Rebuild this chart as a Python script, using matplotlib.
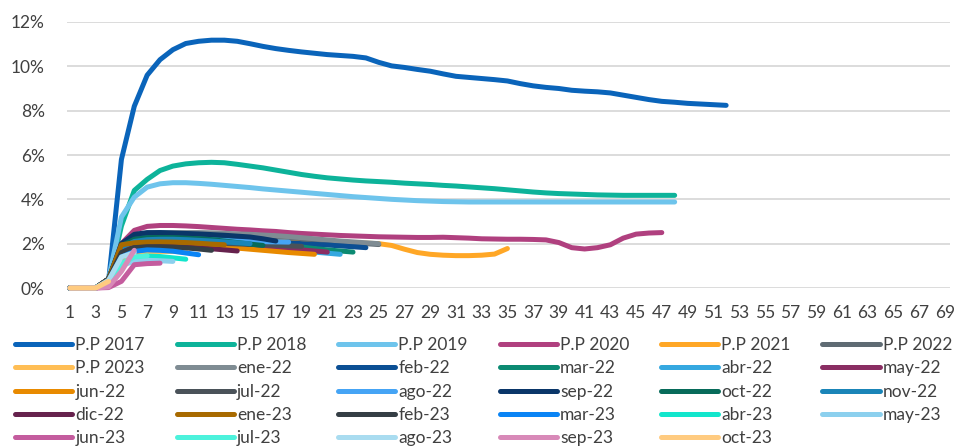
import matplotlib
matplotlib.use("Agg")
import matplotlib.pyplot as plt
from matplotlib.ticker import FuncFormatter

# ─────────────────────────────────────────────
# DATA  (% default rate by month since origination)
# ─────────────────────────────────────────────
pp_2017 = [0, 0, 0, 0.3, 5.8, 8.2, 9.6, 10.3, 10.75, 11.03, 11.13, 11.18, 11.18, 11.13,
           11.02, 10.9, 10.8, 10.72, 10.65, 10.59, 10.53, 10.49, 10.45, 10.38, 10.18,
           10.02, 9.95, 9.86, 9.78, 9.66, 9.55, 9.5, 9.45, 9.4, 9.34, 9.22, 9.12, 9.05,
           9.0, 8.92, 8.88, 8.85, 8.8, 8.7, 8.6, 8.5, 8.42, 8.38, 8.33, 8.3, 8.27, 8.24]
pp_2018 = [0, 0, 0, 0.2, 2.8, 4.4, 4.9, 5.3, 5.5, 5.6, 5.65, 5.67, 5.65, 5.58, 5.5,
           5.42, 5.32, 5.22, 5.12, 5.04, 4.97, 4.92, 4.87, 4.83, 4.8, 4.77, 4.73, 4.7,
           4.67, 4.63, 4.6, 4.56, 4.52, 4.48, 4.43, 4.38, 4.33, 4.29, 4.26, 4.24, 4.22,
           4.2, 4.19, 4.18, 4.18, 4.18, 4.18, 4.18]
pp_2019 = [0, 0, 0, 0.4, 3.2, 4.1, 4.55, 4.7, 4.75, 4.75, 4.72, 4.68, 4.63, 4.58, 4.53,
           4.47, 4.42, 4.37, 4.32, 4.27, 4.22, 4.17, 4.12, 4.08, 4.04, 4.0, 3.97, 3.94,
           3.92, 3.9, 3.89, 3.88, 3.88, 3.88, 3.88, 3.88, 3.88, 3.88, 3.88, 3.88, 3.88,
           3.88, 3.88, 3.88, 3.88, 3.88, 3.88, 3.88]
pp_2020 = [0, 0, 0, 0.3, 2.0, 2.6, 2.78, 2.82, 2.82, 2.8, 2.77, 2.73, 2.69, 2.65, 2.62,
           2.58, 2.55, 2.5, 2.46, 2.43, 2.4, 2.37, 2.35, 2.33, 2.31, 2.3, 2.29, 2.28,
           2.28, 2.29, 2.27, 2.25, 2.22, 2.21, 2.2, 2.2, 2.19, 2.17, 2.05, 1.82, 1.76,
           1.82, 1.95, 2.25, 2.43, 2.48, 2.5]
pp_2021 = [0, 0, 0, 0.3, 1.9, 2.3, 2.4, 2.4, 2.38, 2.35, 2.32, 2.3, 2.27, 2.25, 2.22,
           2.2, 2.18, 2.15, 2.13, 2.1, 2.08, 2.05, 2.03, 2.02, 2.0, 1.92, 1.75, 1.6,
           1.52, 1.48, 1.46, 1.46, 1.48, 1.53, 1.78]
pp_2022 = [0, 0, 0, 0.4, 1.85, 2.25, 2.38, 2.44, 2.46, 2.46, 2.46, 2.45, 2.43, 2.4,
           2.38, 2.35, 2.32, 2.28, 2.23, 2.18, 2.13, 2.08, 2.04, 2.0, 1.96]
pp_2023 = [0, 0, 0, 0.2, 1.3, 1.6, 1.65, 1.65, 1.65, 1.63]

ene_22 = [0, 0, 0, 0.4, 1.9, 2.3, 2.42, 2.48, 2.5, 2.5, 2.5, 2.49, 2.47, 2.44, 2.42,
          2.39, 2.36, 2.32, 2.27, 2.22, 2.17, 2.12, 2.08, 2.04, 2.0]
feb_22 = [0, 0, 0, 0.4, 1.9, 2.3, 2.45, 2.48, 2.46, 2.43, 2.4, 2.35, 2.3, 2.24, 2.18,
          2.13, 2.08, 2.04, 2.0, 1.97, 1.94, 1.9, 1.86, 1.82]
mar_22 = [0, 0, 0, 0.4, 1.8, 2.15, 2.25, 2.28, 2.28, 2.26, 2.23, 2.2, 2.15, 2.1, 2.05,
          2.0, 1.95, 1.9, 1.85, 1.78, 1.72, 1.67, 1.62]
abr_22 = [0, 0, 0, 0.4, 1.7, 2.0, 2.1, 2.12, 2.12, 2.1, 2.07, 2.03, 1.98, 1.93, 1.88,
          1.83, 1.78, 1.73, 1.68, 1.62, 1.57, 1.52]
may_22 = [0, 0, 0, 0.4, 1.7, 2.05, 2.15, 2.18, 2.17, 2.15, 2.12, 2.08, 2.03, 1.98, 1.92,
          1.87, 1.82, 1.77, 1.72, 1.67, 1.62]
jun_22 = [0, 0, 0, 0.4, 1.8, 1.95, 1.98, 1.98, 1.96, 1.94, 1.91, 1.88, 1.84, 1.8, 1.75,
          1.7, 1.65, 1.6, 1.56, 1.52]
jul_22 = [0, 0, 0, 0.4, 1.7, 1.95, 2.05, 2.08, 2.08, 2.07, 2.05, 2.03, 2.01, 1.99, 1.97,
          1.95, 1.93, 1.9, 1.88]
ago_22 = [0, 0, 0, 0.4, 1.8, 2.1, 2.2, 2.22, 2.22, 2.2, 2.18, 2.16, 2.14, 2.12, 2.1,
          2.09, 2.08, 2.07]
sep_22 = [0, 0, 0, 0.4, 2.0, 2.42, 2.5, 2.5, 2.48, 2.46, 2.44, 2.41, 2.38, 2.34, 2.3,
          2.22, 2.12]
oct_22 = [0, 0, 0, 0.4, 1.9, 2.2, 2.27, 2.28, 2.27, 2.25, 2.22, 2.18, 2.12, 2.05, 1.98,
          1.92]
nov_22 = [0, 0, 0, 0.4, 1.8, 2.1, 2.18, 2.2, 2.2, 2.18, 2.15, 2.12, 2.08, 2.04, 2.0]
dic_22 = [0, 0, 0, 0.4, 1.6, 1.85, 1.9, 1.9, 1.88, 1.85, 1.81, 1.77, 1.72, 1.67]
ene_23 = [0, 0, 0, 0.4, 1.95, 2.04, 2.07, 2.08, 2.07, 2.05, 2.02, 1.98, 1.95]
feb_23 = [0, 0, 0, 0.4, 1.6, 1.82, 1.86, 1.86, 1.84, 1.81, 1.76, 1.7]
mar_23 = [0, 0, 0, 0.3, 1.4, 1.65, 1.72, 1.7, 1.66, 1.58, 1.5]
abr_23 = [0, 0, 0, 0.3, 1.1, 1.38, 1.44, 1.42, 1.36, 1.3]
may_23 = [0, 0, 0, 0.3, 1.0, 1.22, 1.25, 1.23, 1.2]
jun_23 = [0, 0, 0, 0.02, 0.3, 1.05, 1.1, 1.12]
jul_23 = [0, 0, 0, 0.3, 1.1, 1.4, 1.45]
ago_23 = [0, 0, 0, 0.35, 1.4, 1.6]
sep_23 = [0, 0, 0, 0.05, 0.75, 1.7]
oct_23 = [0, 0, 0, 0.3]

labels = ["P.P 2017", "P.P 2018", "P.P 2019", "P.P 2020", "P.P 2021", "P.P 2022",
          "P.P 2023", "ene-22", "feb-22", "mar-22", "abr-22", "may-22",
          "jun-22", "jul-22", "ago-22", "sep-22", "oct-22", "nov-22",
          "dic-22", "ene-23", "feb-23", "mar-23", "abr-23", "may-23",
          "jun-23", "jul-23", "ago-23", "sep-23", "oct-23"]
series = [pp_2017, pp_2018, pp_2019, pp_2020, pp_2021, pp_2022,
          pp_2023, ene_22, feb_22, mar_22, abr_22, may_22,
          jun_22, jul_22, ago_22, sep_22, oct_22, nov_22,
          dic_22, ene_23, feb_23, mar_23, abr_23, may_23,
          jun_23, jul_23, ago_23, sep_23, oct_23]
colors = ["#0A64BA", "#0DB39A", "#6EC4EC", "#B0407F", "#FFA726", "#5F6B73",
          "#FFBE55", "#7F8C93", "#0B4F94", "#0B8A72", "#35A8E0", "#8A2E63",
          "#E88A00", "#4A5259", "#45A4F5", "#0A3669", "#076B5A", "#1A85B8",
          "#66224D", "#A86A00", "#353E45", "#0A84F5", "#12E6CC", "#8CD0EE",
          "#C45C9E", "#4CF2DC", "#A9DCF0", "#D889B8", "#FFCB80"]

x_ticks = list(range(1, 70, 2))
y_ticks = [0, 2, 4, 6, 8, 10, 12]

# ─────────────────────────────────────────────
# PLOT
# ─────────────────────────────────────────────
plt.rcParams["font.family"] = ["Lato", "DejaVu Sans"]

fig = plt.figure(figsize=(9.55, 4.48), dpi=100)
ax = fig.add_axes([67 / 955, 1 - 288 / 448, (950 - 67) / 955, (288 - 22) / 448])

handles = []
for vals, lab, col in zip(series, labels, colors):
    xs = list(range(1, len(vals) + 1))
    h, = ax.plot(xs, vals, color=col, lw=3.6, label=lab,
                 solid_capstyle="round", solid_joinstyle="round", clip_on=False, zorder=3)
    handles.append(h)

ax.set_xlim(0.77, 69.4)
ax.set_ylim(0, 12)
ax.set_xticks(x_ticks)
ax.set_yticks(y_ticks)
ax.yaxis.set_major_formatter(FuncFormatter(lambda v, p: f"{v:.0f}%"))
ax.grid(axis="y", color="#D9D9D9", lw=1.3, zorder=0)
ax.set_axisbelow(True)
for s in ax.spines.values():
    s.set_visible(False)
ax.tick_params(axis="both", length=0, labelsize=12.5, colors="#404040")
ax.tick_params(axis="x", pad=12)
ax.tick_params(axis="y", pad=16)

# legend reads row by row, matplotlib fills column by column -> reorder
NCOL = 6
order = [i for c in range(NCOL) for i in range(c, len(handles), NCOL)]
fig.legend([handles[i] for i in order], [labels[i] for i in order],
           loc="upper left", bbox_to_anchor=(15 / 955, 1 - 337 / 448), ncol=NCOL,
           frameon=False, fontsize=12.5, handlelength=3.3, handletextpad=0.18,
           columnspacing=1.82, labelspacing=0.42, borderpad=0, borderaxespad=0,
           labelcolor="#404040")

fig.savefig("out.png", dpi=100)
